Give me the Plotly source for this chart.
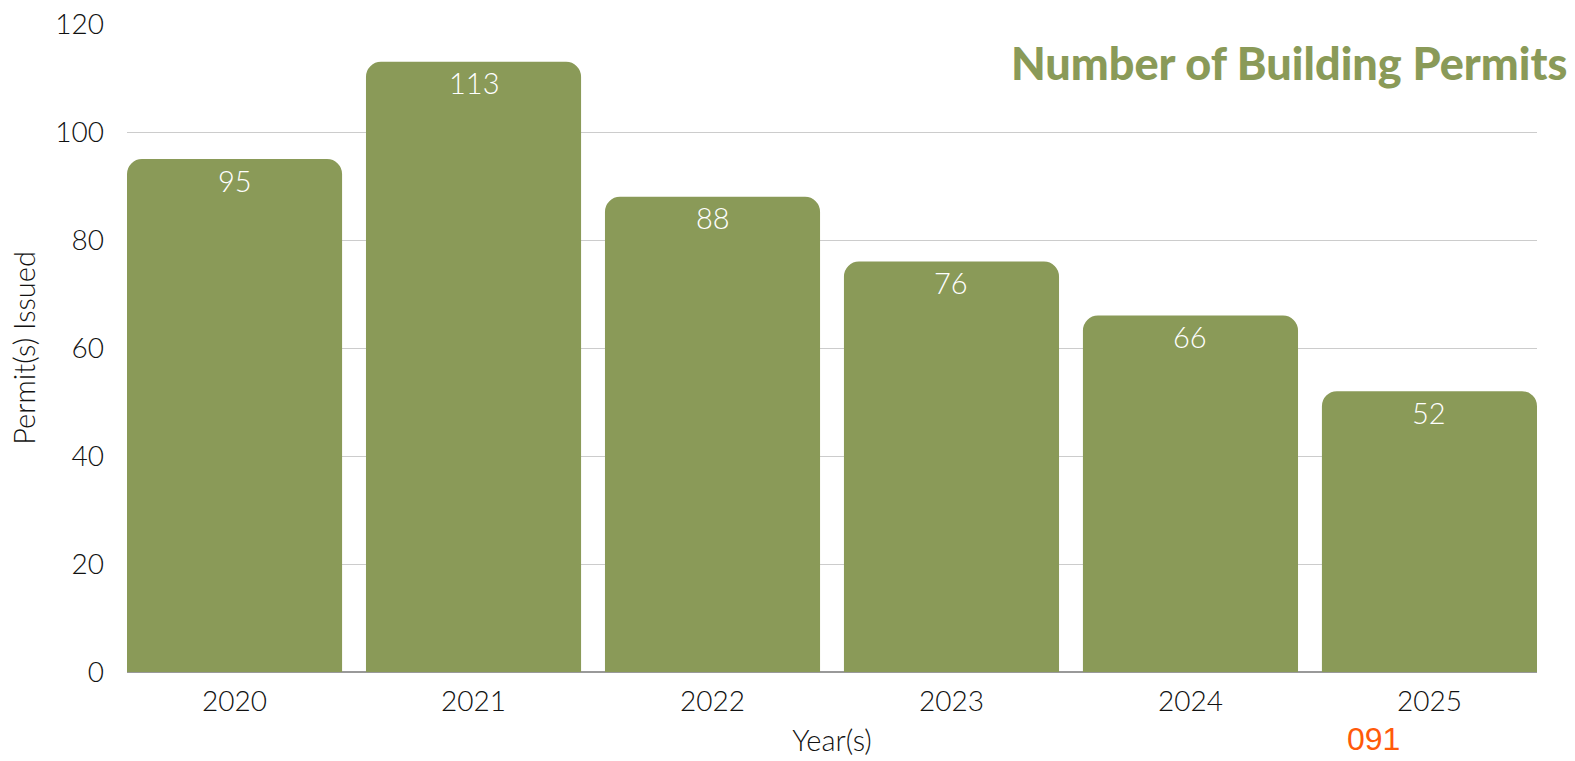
import plotly.graph_objects as go

years = ["2020", "2021", "2022", "2023", "2024", "2025"]
permits = [95, 113, 88, 76, 66, 52]
y_ticks = [0, 20, 40, 60, 80, 100, 120]

GREEN = "#8A9A58"
FONT = "Lato"
GAP = 0.1

fig = go.Figure()
fig.add_trace(go.Bar(
    x=years, y=permits,
    marker=dict(color=GREEN, line=dict(width=0)),
    hoverinfo="skip",
))

annotations = [
    dict(x=i, y=v, xref="x", yref="y", text=str(v), showarrow=False,
         yanchor="middle", xanchor="center", yshift=-21,
         font=dict(family=FONT, size=29, color="white", weight=300))
    for i, v in enumerate(permits)
]

L, R, T, B = 127, 38, 24, 89
W, H = 1575, 761
plot_w = W - L - R
plot_h = H - T - B

annotations.append(dict(
    text="Number of Building Permits", x=1.0, y=(H - B - 63) / plot_h,
    xref="paper", yref="paper", xanchor="right", yanchor="middle",
    showarrow=False, xshift=32,
    font=dict(family=FONT, size=45, color=GREEN, weight=900)))
annotations.append(dict(
    text="091", x=(1373 - L) / plot_w, y=(H - B - 739) / plot_h,
    xref="paper", yref="paper", xanchor="center", yanchor="middle",
    showarrow=False,
    font=dict(family="Liberation Sans", size=32, color="#FF5A0A")))

fig.update_layout(
    width=W, height=H,
    margin=dict(l=L, r=R, t=T, b=B),
    paper_bgcolor="white", plot_bgcolor="white",
    bargap=GAP,
    barcornerradius=15,
    showlegend=False,
    font=dict(family=FONT, color="#111111"),
    xaxis=dict(
        type="category",
        automargin=False,
        title=dict(text="Year(s)", font=dict(family=FONT, size=29, weight=300), standoff=14),
        tickfont=dict(family=FONT, size=28, weight=300),
        showgrid=False, showline=False, ticks="",
        ticklabelstandoff=10,
        range=[-0.5 + GAP / 2, len(years) - 0.5 - GAP / 2],
    ),
    yaxis=dict(
        automargin=False,
        title=dict(text="Permit(s) Issued", font=dict(family=FONT, size=29, weight=300), standoff=11),
        range=[0, 120],
        tickvals=y_ticks,
        tickfont=dict(family=FONT, size=28, weight=300),
        showgrid=True, gridcolor="#CCCCCC", gridwidth=1,
        zeroline=True, zerolinecolor="#999999", zerolinewidth=1.5,
        ticks="", showline=False,
        ticklabelstandoff=22,
    ),
    annotations=annotations,
)

fig.write_html("out.html")
